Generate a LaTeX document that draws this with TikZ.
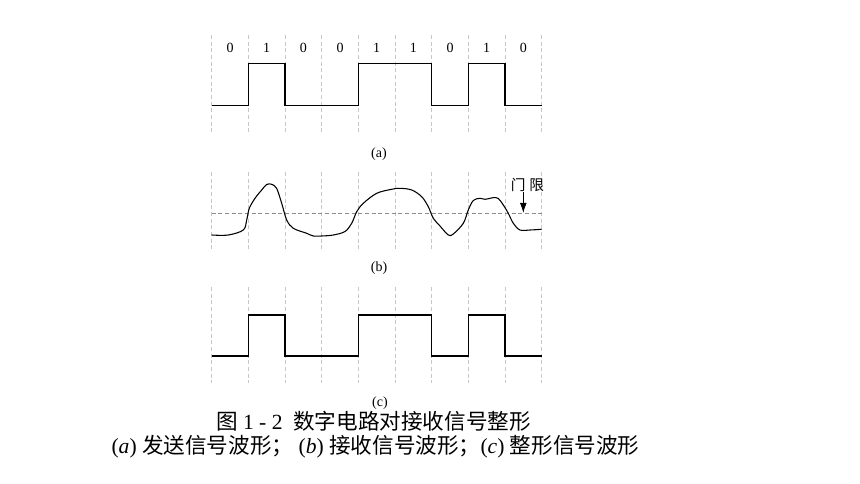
\documentclass[tikz,border=0pt]{standalone}
\usepackage{fontspec}
\setmainfont{Liberation Serif}
\newfontfamily\cjk{Noto Sans CJK SC}
\usepackage{tikz}
\usetikzlibrary{arrows.meta}

\begin{document}
\begin{tikzpicture}[
    x=0.75pt, y=-0.75pt,
    gridline/.style={draw=black!22, dash pattern=on 3pt off 2pt, line width=0.5pt},
    thrline/.style={draw=black!45, dash pattern=on 3pt off 2pt, line width=0.5pt},
    wave/.style={draw=black, line width=0.8pt, line join=miter},
    bitlabel/.style={font=\fontsize{10.5}{12}\selectfont, inner sep=0pt},
    sublabel/.style={font=\fontsize{10.5}{12}\selectfont, inner sep=0pt},
    caption/.style={font=\fontsize{16.2}{18}\selectfont, inner sep=0pt}
]
\useasboundingbox (0,0) rectangle (860,484);

% grid lines of the three panels
\foreach \k in {0,...,9} {
    \draw[gridline] (211.7+36.67*\k,35) -- (211.7+36.67*\k,133);
    \draw[gridline] (211.7+36.67*\k,172) -- (211.7+36.67*\k,252);
    \draw[gridline] (211.7+36.67*\k,287) -- (211.7+36.67*\k,383);
}

% bit values
\foreach \b [count=\k from 0] in {0,1,0,0,1,1,0,1,0}
    \node[bitlabel] (bit\k) at (230+36.67*\k,48) {\b};

% (a) sent signal
\draw[wave] (211.7,105.3) -- (248.3,105.3) -- (248.3,63.3) -- (285,63.3)
    -- (285,105.3) -- (358.3,105.3) -- (358.3,63.3) -- (431.7,63.3)
    -- (431.7,105.3) -- (468.3,105.3) -- (468.3,63.3) -- (505,63.3)
    -- (505,105.3) -- (541.7,105.3);
\node[sublabel] (capa) at (379,154) {(a)};

% (b) received signal
\draw[thrline] (211.7,213) -- (541.7,213);
\draw[wave] plot[smooth, tension=0.55] coordinates {
    (211.7,235) (228.3,235) (243.3,230) (246.7,220) (249.3,208.3)
    (255,198.3) (261.7,190) (266.7,184.5) (271.7,184.3) (276.7,188.5)
    (281.7,203.3) (286.7,220) (293.3,228.3) (306.7,233.3) (313.3,236)
    (321.7,236) (333.3,235) (345,231.5) (351.7,223.3) (356.7,211.7)
    (363.3,203.3) (376.7,193.3) (391.7,189.3) (400,188.3) (411.7,190)
    (421.7,196.7) (428.3,206.7) (433.3,218.3) (440,226) (448.3,235)
    (453.3,234) (463.3,223.3) (468.3,210) (473.3,200.5) (480,198.3)
    (485,199.3) (493.3,197.7) (498.3,198.5) (503.3,205) (508.3,213.3)
    (513.3,223.3) (520,230) (530,230) (541.7,229.3)};
\node[inner sep=0pt, font=\cjk\fontsize{11}{12}\selectfont] (thr) at (527.5,185) {门\hspace{3pt}限};
\coordinate (thrtop) at (523.3,192);
\coordinate (thrtip) at (523.3,213);
\draw[-{Latex[length=7.5pt,width=5pt]}, line width=0.6pt] (thrtop) -- (thrtip);
\node[sublabel] (capb) at (379,268) {(b)};

% (c) reshaped signal
\draw[wave] (211.7,356) -- (248.3,356) -- (248.3,315) -- (285,315)
    -- (285,356) -- (358.3,356) -- (358.3,315) -- (431.7,315)
    -- (431.7,356) -- (468.3,356) -- (468.3,315) -- (505,315)
    -- (505,356) -- (541.7,356);
\node[sublabel] (capc) at (380,403) {(c)};

% caption
\node[caption] (title1) at (373.5,421) {{\cjk 图}\ 1 - 2\ \ {\cjk 数字电路对接收信号整形}};
\node[caption] (title2) at (375.5,447) {(\textit{a}) {\cjk 发送信号波形；}\ (\textit{b}) {\cjk 接收信号波形；}(\textit{c}) {\cjk 整形信号波形}};
\end{tikzpicture}
\end{document}
